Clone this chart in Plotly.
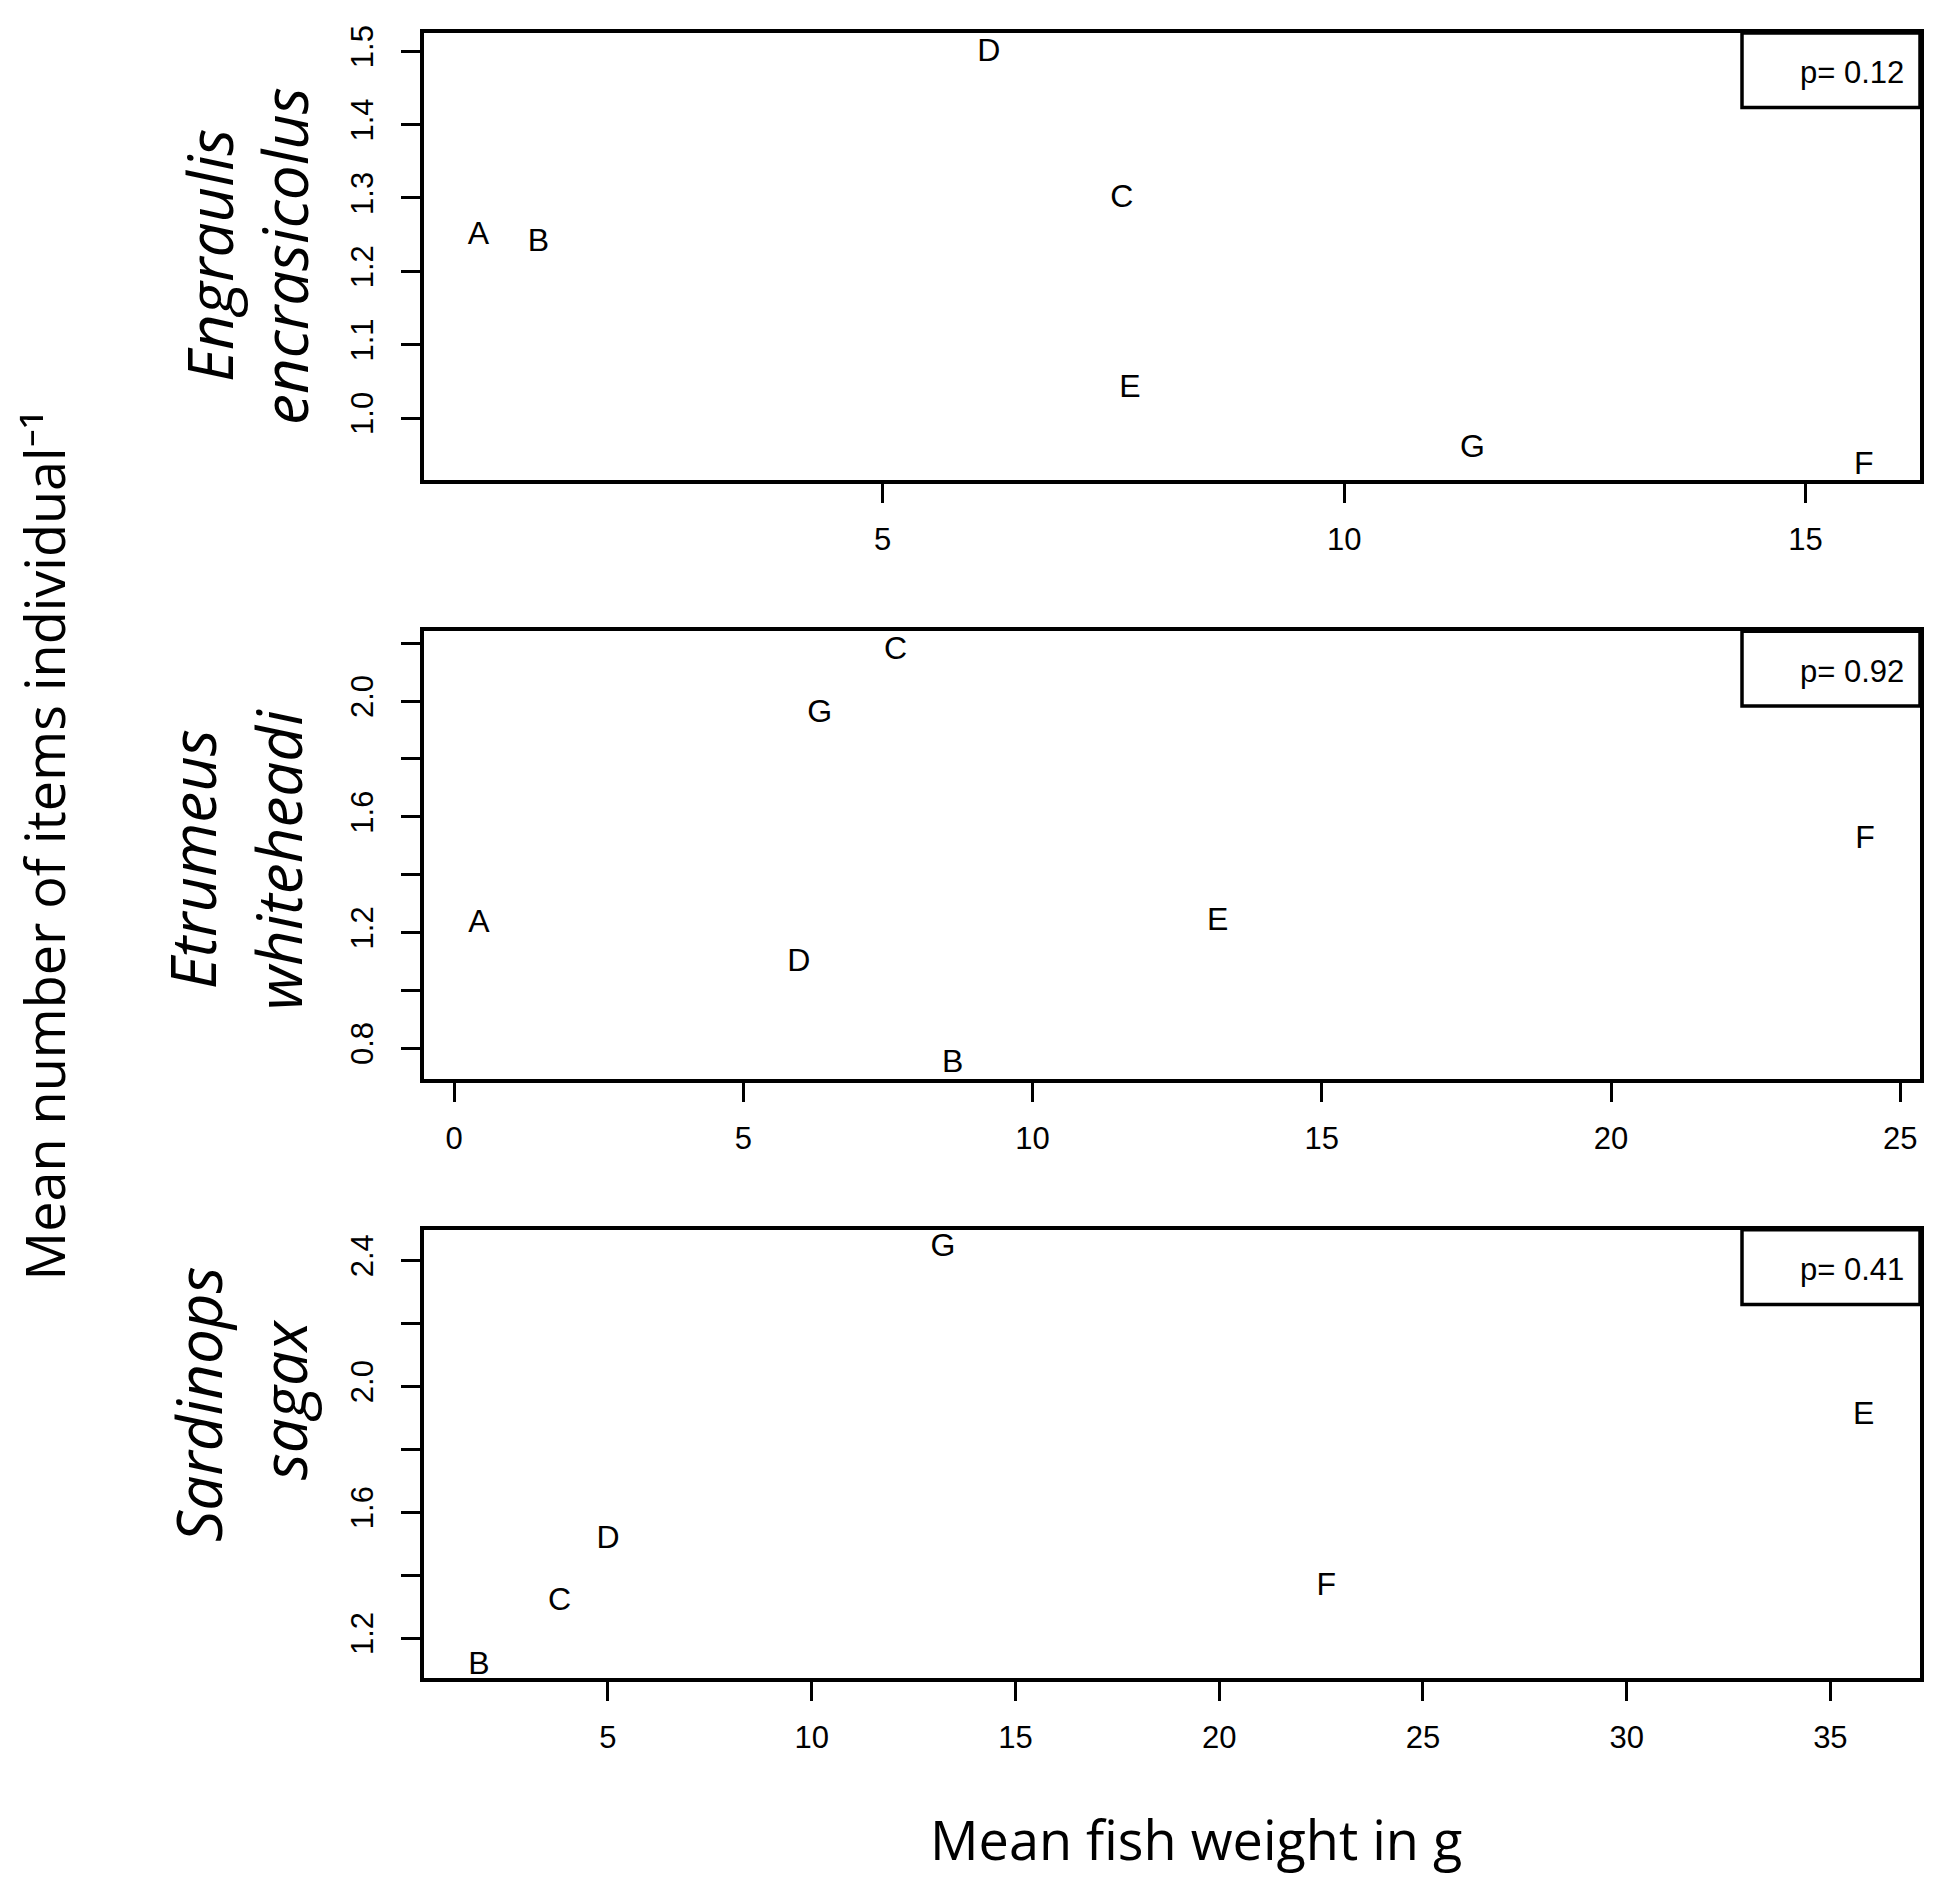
import plotly.graph_objects as go

# --- data ---
labels_eng = ["A", "B", "C", "D", "E", "F", "G"]
weight_eng = [0.62, 1.27, 7.59, 6.15, 7.68, 15.63, 11.39]
items_eng = [1.248, 1.238, 1.299, 1.498, 1.039, 0.934, 0.958]

labels_etr = ["A", "B", "C", "D", "E", "F", "G"]
weight_etr = [0.43, 8.62, 7.63, 5.96, 13.2, 24.39, 6.32]
items_etr = [1.228, 0.745, 2.174, 1.096, 1.235, 1.518, 1.954]

labels_sar = ["B", "C", "D", "E", "F", "G"]
weight_sar = [1.83, 3.81, 5.0, 35.82, 22.63, 13.22]
items_sar = [1.113, 1.316, 1.513, 1.907, 1.362, 2.438]

p_values = ["p= 0.12", "p= 0.92", "p= 0.41"]
species_1 = ["Engraulis", "Etrumeus", "Sardinops"]
species_2 = ["encrasicolus", "whiteheadi", "sagax"]

xticks_eng = [5, 10, 15]
xticks_etr = [0, 5, 10, 15, 20, 25]
xticks_sar = [5, 10, 15, 20, 25, 30, 35]
yticks_eng = [1.0, 1.1, 1.2, 1.3, 1.4, 1.5]
ytext_eng = ["1.0", "1.1", "1.2", "1.3", "1.4", "1.5"]
yminor_eng = []
yticks_etr = [0.8, 1.2, 1.6, 2.0]
ytext_etr = ["0.8", "1.2", "1.6", "2.0"]
yminor_etr = [1.0, 1.4, 1.8, 2.2]
yticks_sar = [1.2, 1.6, 2.0, 2.4]
ytext_sar = ["1.2", "1.6", "2.0", "2.4"]
yminor_sar = [1.4, 1.8, 2.2]

# page offsets (html body margin etc.)
PAGE_W, PAGE_H = 1950, 1890
OFF_X, OFF_Y = 8, 13
W, H = PAGE_W - 2 * OFF_X, PAGE_H - OFF_Y - 8


def px(x):
    return (x - OFF_X) / W


def py(y):
    return 1 - (y - OFF_Y) / H


FONT = "Liberation Sans, Arial, sans-serif"
TITLE_FONT = "Open Sans, Noto Sans, sans-serif"

panels = [
    (weight_eng, items_eng, labels_eng, xticks_eng, yticks_eng, ytext_eng, yminor_eng,
     [0.03, 16.24], [0.9155, 1.525], (30, 479), (231, 306), (254, 254)),
    (weight_etr, items_etr, labels_etr, xticks_etr, yticks_etr, ytext_etr, yminor_etr,
     [-0.52, 25.34], [0.692, 2.241], (631, 1081), (214, 300), (860, 860)),
    (weight_sar, items_sar, labels_sar, xticks_sar, yticks_sar, ytext_sar, yminor_sar,
     [0.485, 37.2], [1.074, 2.497], (1232, 1682), (220, 305), (1408, 1403)),
]

fig = go.Figure()
annotations = []
shapes = []
LEFT, RIGHT = 424, 1920

for i, (xs, ys, labs, xt, yt, ytt, ym, xr, yr, (top, bot), (b1, b2), (c1, c2)) in enumerate(panels):
    n = "" if i == 0 else str(i + 1)
    fig.add_trace(go.Scatter(
        x=xs, y=ys, text=labs, mode="text",
        textfont=dict(family=FONT, size=32, color="black"),
        textposition="middle center", cliponaxis=False,
        xaxis="x" + n, yaxis="y" + n, showlegend=False, hoverinfo="skip"))

    axis_common = dict(showline=True, mirror=True, linecolor="black", linewidth=3.5,
                       ticks="outside", tickcolor="black", tickwidth=3, ticklen=19,
                       showgrid=False, zeroline=False,
                       tickfont=dict(family=FONT, size=31, color="black"))
    yaxis = dict(axis_common, domain=[py(bot), py(top)], range=yr,
                 tickvals=yt, ticktext=ytt, tickangle=-90,
                 anchor="x" + n, ticklabelstandoff=16)
    if ym:
        yaxis["minor"] = dict(tickmode="array", tickvals=ym, ticks="outside",
                              ticklen=19, tickwidth=3, tickcolor="black", showgrid=False)
    fig.update_layout(**{
        "xaxis" + n: dict(axis_common, domain=[px(LEFT), px(RIGHT)], range=xr,
                          tickvals=xt, ticktext=[str(v) for v in xt],
                          anchor="y" + n, ticklabelstandoff=10),
        "yaxis" + n: yaxis,
    })

    # p-value box in the top right corner
    shapes.append(dict(type="rect", xref="x" + n + " domain", yref="y" + n + " domain",
                       x0=1 - 178 / (RIGHT - LEFT), x1=1, y0=1 - 75 / (bot - top), y1=1,
                       line=dict(color="black", width=3.5), fillcolor="white"))
    annotations.append(dict(text=p_values[i], xref="x" + n + " domain",
                            yref="y" + n + " domain", x=1 - 14 / (RIGHT - LEFT),
                            y=1 - 40 / (bot - top), xanchor="right", yanchor="middle",
                            showarrow=False,
                            font=dict(family=FONT, size=31, color="black")))

    # species name, two lines
    for txt, base, cy in ((species_1[i], b1, c1), (species_2[i], b2, c2)):
        annotations.append(dict(text="<i>" + txt + "</i>", xref="paper", yref="paper",
                                x=px(base - 22), y=py(cy), textangle=-90,
                                xanchor="center", yanchor="middle", showarrow=False,
                                font=dict(family=TITLE_FONT, size=62, color="black")))

annotations.append(dict(text="Mean fish weight in g", xref="paper", yref="paper",
                        x=px(1196), y=py(1844), xanchor="center", yanchor="middle",
                        showarrow=False,
                        font=dict(family=TITLE_FONT, size=54, color="black")))
annotations.append(dict(text="Mean number of items individual\u207b\u00b9",
                        xref="paper", yref="paper", x=px(44), y=py(846),
                        textangle=-90, xanchor="center", yanchor="middle",
                        showarrow=False,
                        font=dict(family=TITLE_FONT, size=54, color="black")))

fig.update_layout(width=W, height=H, margin=dict(l=0, r=0, t=0, b=0),
                  paper_bgcolor="white", plot_bgcolor="white",
                  annotations=annotations, shapes=shapes)

fig.write_html("out.html")
